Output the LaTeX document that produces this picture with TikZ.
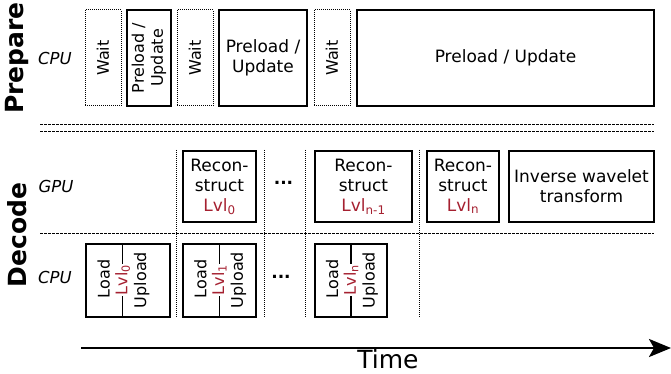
\documentclass[tikz,border=0pt]{standalone}
\usepackage{fontspec}
\setmainfont{DejaVu Sans}
\usetikzlibrary{arrows.meta}

\definecolor{lvlred}{RGB}{165,32,48}

\begin{document}
\begin{tikzpicture}[x=1pt,y=-1pt,
  solidbox/.style={draw, line width=1.3pt, inner sep=0pt},
  waitbox/.style={draw, line width=1pt, dash pattern=on 1pt off 1pt, inner sep=0pt},
  boxtext/.style={font=\fontsize{17}{20}\selectfont, align=center, inner sep=0pt},
  rottext/.style={font=\fontsize{16}{19}\selectfont, align=center, inner sep=0pt, rotate=90},
  lvltext/.style={font=\fontsize{16}{19}\selectfont, text=lvlred, rotate=90, fill=white, inner sep=1pt},
  sectionlbl/.style={font=\fontsize{25}{30}\bfseries\selectfont, rotate=90, inner sep=0pt},
  unitlbl/.style={font=\fontsize{16.5}{20}\itshape\selectfont, inner sep=0pt},
  sepline/.style={line width=1pt, dash pattern=on 2.5pt off 1.5pt},
  slotline/.style={line width=1pt, dash pattern=on 1pt off 1pt},
  divider/.style={line width=1.3pt}
]
\useasboundingbox (0,0) rectangle (671,374);

% ---------- section and unit labels ----------
\node[sectionlbl] (prep) at (17,58) {Prepare};
\node[sectionlbl] (dec) at (17,235) {Decode};
\node[unitlbl] (cpu1) at (55,58) {CPU};
\node[unitlbl] (gpu) at (56,186) {GPU};
\node[unitlbl] (cpu2) at (55,277) {CPU};

% ---------- Prepare: CPU row ----------
\node[waitbox, minimum width=36pt, minimum height=96pt] (w1) at (103,58) {};
\node[rottext] (w1t) at (w1) {Wait};
\node[solidbox, minimum width=44pt, minimum height=96pt] (p1) at (149,58) {};
\node[rottext] (p1t) at (p1) {Preload /\\Update};
\node[waitbox, minimum width=36pt, minimum height=96pt] (w2) at (195,58) {};
\node[rottext] (w2t) at (w2) {Wait};
\node[solidbox, minimum width=88pt, minimum height=96pt] (p2) at (263,58) {};
\node[boxtext] (p2t) at (p2) {Preload /\\Update};
\node[waitbox, minimum width=36pt, minimum height=96pt] (w3) at (332,58) {};
\node[rottext] (w3t) at (w3) {Wait};
\node[solidbox, minimum width=297pt, minimum height=96pt] (p3) at (505.5,58) {};
\node[boxtext] (p3t) at (p3) {Preload / Update};

% ---------- separators ----------
\coordinate (s1a) at (40,125);  \coordinate (s1b) at (654,125);
\coordinate (s2a) at (40,132);  \coordinate (s2b) at (654,132);
\coordinate (s3a) at (40,233.5); \coordinate (s3b) at (654,233.5);
\draw[sepline] (s1a) -- (s1b);
\draw[sepline] (s2a) -- (s2b);
\draw[sepline] (s3a) -- (s3b);

% time slot boundaries
\foreach \x/\n in {176.7/a,264/b,305.7/c,419/d}{
  \coordinate (v\n t) at (\x,150);
  \coordinate (v\n b) at (\x,317);
  \draw[slotline] (v\n t) -- (v\n b);
}

% ---------- Decode: GPU row ----------
\node[solidbox, minimum width=73pt, minimum height=71pt] (r0) at (219.5,186.5) {};
\node[boxtext] (r0t) at (r0) {Recon-\\struct\\{\color{lvlred}Lvl\textsubscript{0}}};
\node[boxtext] (gdots) at (283.5,183) {\textbf{...}};
\node[solidbox, minimum width=97pt, minimum height=71pt] (r1) at (363.5,186.5) {};
\node[boxtext] (r1t) at (r1) {Recon-\\struct\\{\color{lvlred}Lvl\textsubscript{n-1}}};
\node[solidbox, minimum width=72pt, minimum height=71pt] (rn) at (463,186.5) {};
\node[boxtext] (rnt) at (rn) {Recon-\\struct\\{\color{lvlred}Lvl\textsubscript{n}}};
\node[solidbox, minimum width=145pt, minimum height=71pt] (iw) at (581.5,186.5) {};
\node[boxtext] (iwt) at (iw) {Inverse wavelet\\transform};

% ---------- Decode: CPU row ----------
% box, divider x, level label
\foreach \nm/\cx/\w/\d/\lv in {c0/128/84/122.7/0, c1/219.5/73/219.3/1, cn/351/72/351/n}{
  \node[solidbox, minimum width=\w pt, minimum height=73pt] (\nm) at (\cx,280.5) {};
  \coordinate (\nm top) at (\d,244);
  \coordinate (\nm bot) at (\d,317);
  \draw[divider] (\nm top) -- (\nm bot);
  \node[rottext, anchor=base] (\nm load) at (\d-13,279) {Load};
  \node[rottext, anchor=base] (\nm up) at (\d+23.5,280) {Upload};
  \node[lvltext] (\nm lvl) at (\d,280) {Lvl\textsubscript{\lv}};
}
\node[boxtext] (cdots) at (281,277) {\textbf{...}};

% ---------- time axis ----------
\coordinate (ta) at (81,348);
\coordinate (tb) at (671,348);
\draw[line width=2.6pt, -{Stealth[length=22pt,width=18pt,inset=5pt]}] (ta) -- (tb);
\node[font=\fontsize{25}{30}\selectfont, anchor=base, inner sep=0pt] (time) at (388,368.5) {Time};
\end{tikzpicture}
\end{document}
